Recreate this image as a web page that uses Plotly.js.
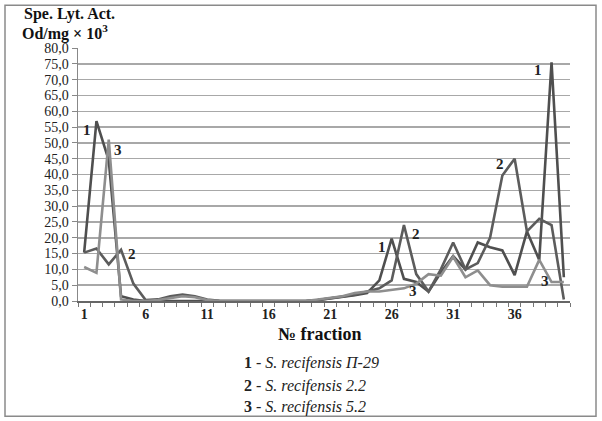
<!DOCTYPE html>
<html>
<head>
<meta charset="utf-8">
<script src="https://cdn.plot.ly/plotly-3.0.1.min.js"></script>
<style>html,body{margin:0;padding:0;background:#fff;}#chart{width:602px;height:421px;}</style>
</head>
<body>
<div id="chart"></div>
<script>
var fractions = [1,2,3,4,5,6,7,8,9,10,11,12,13,14,15,16,17,18,19,20,21,22,23,24,25,26,27,28,29,30,31,32,33,34,35,36,37,38,39,40];
var s1 = [15.3,56.9,44.5,1.5,0.5,0,0,0,0,0,0,0,0,0,0,0,0,0,0,0.3,0.8,1.2,1.8,2.5,6.5,19.7,7,6,3,9,14.2,10,18.5,17,16,8.2,22,13,75.5,7.5];
var s2 = [15.3,16.6,11.6,16.2,5.5,0.3,0.5,1.5,2,1.5,0.5,0.1,0,0,0,0,0,0,0,0.3,0.8,1.5,2,3,4,6.5,24,8.5,3,10,18.5,10,12,20,39.7,45,22,26,24,0.5];
var s3 = [10.75,8.9,51,0.5,0,0,0.3,1,1.5,1.2,0.3,0,0,0,0,0,0,0,0,0.5,1,1.5,2.5,3,3,3.5,4,5.5,8.5,8,14,7.5,9.7,5,4.5,4.5,4.5,13,6,6];
var seriesNames = ["1 - S. recifensis П-29","2 - S. recifensis 2.2","3 - S. recifensis 5.2"];
var labelMarks = [
  {t:"1", x:1.23, y:54.0}, {t:"3", x:3.78, y:47.6}, {t:"2", x:4.87, y:15.0},
  {t:"1", x:25.2, y:17.1}, {t:"2", x:27.95, y:21.3}, {t:"3", x:27.7, y:3.2},
  {t:"2", x:34.8, y:43.2}, {t:"1", x:37.9, y:73.2}, {t:"3", x:38.5, y:6.2}
];

var serif = "'Times New Roman', 'Liberation Serif', serif";
var colors = ["#4f4f4f","#5c5c5c","#8e8e8e"];
var sData = [s1,s2,s3];
var traces = sData.map(function(s,i){
  return {x:fractions, y:s, type:"scatter", mode:"lines", name:seriesNames[i],
    line:{color:colors[i], width:2.6}, hoverinfo:"skip"};
});

var annotations = labelMarks.map(function(m){
  return {x:m.x, y:m.y, xref:"x", yref:"y", text:"<b>"+m.t+"</b>", showarrow:false,
    font:{family:serif, size:15, color:"#222"}};
});
// y title (two lines)
annotations.push({xref:"paper", yref:"paper", x:(22-78)/492, y:(300.7-14)/253, xanchor:"left", yanchor:"middle",
  text:"<b>Spe. Lyt. Act.</b>", showarrow:false, font:{family:serif, size:16, color:"#111"}});
annotations.push({xref:"paper", yref:"paper", x:(20-78)/492, y:(300.7-32)/253, xanchor:"left", yanchor:"middle",
  text:"<b>Od/mg × 10<sup>3</sup></b>", showarrow:false, font:{family:serif, size:16, color:"#111"}});
// x title
annotations.push({xref:"paper", yref:"paper", x:(320-78)/492, y:(300.7-334)/253, xanchor:"center", yanchor:"middle",
  text:"<b>№ fraction</b>", showarrow:false, font:{family:serif, size:18, color:"#111"}});
// legend text lines
var legY = [363, 386, 407];
seriesNames.forEach(function(n,i){
  var parts = n.split(" - ");
  annotations.push({xref:"paper", yref:"paper", x:(242-78)/492, y:(300.7-legY[i])/253, xanchor:"left", yanchor:"middle",
    text:"<b>"+parts[0]+"</b> - <i>"+parts[1]+"</i>", showarrow:false, font:{family:serif, size:16, color:"#222"}});
});

var layout = {
  width:602, height:421,
  margin:{l:78, r:32, t:48, b:120},
  paper_bgcolor:"#fff", plot_bgcolor:"#fff",
  separators:", ",
  showlegend:false,
  font:{family:serif},
  xaxis:{range:[0.5,40.5], tickmode:"linear", tick0:1, dtick:5, ticks:"", showgrid:false, zeroline:false,
    showline:true, linecolor:"#666", linewidth:1.5,
    tickfont:{family:serif, size:14, color:"#222", weight:"bold"},
    minor:{tickmode:"linear", tick0:0.5, dtick:1, ticks:"outside", ticklen:4, tickcolor:"#777", tickwidth:1, showgrid:false}},
  yaxis:{range:[0,80], tickmode:"linear", tick0:0, dtick:5, tickformat:".1f", ticks:"outside", ticklen:5, tickcolor:"#888",
    showgrid:true, gridcolor:"#a8a8a8", gridwidth:1.5, zeroline:false, showline:true, linecolor:"#888", linewidth:1.5,
    tickfont:{family:serif, size:14, color:"#222"}},
  annotations:annotations,
  shapes:[{type:"rect", xref:"paper", yref:"paper", x0:(5-78)/492, x1:(596-78)/492, y0:(300.7-416)/253, y1:(300.7-5)/253,
    line:{color:"#8a8a8a", width:1.5}, fillcolor:"rgba(0,0,0,0)"}]
};
Plotly.newPlot("chart", traces, layout, {staticPlot:true, displayModeBar:false});
</script>
</body>
</html>
